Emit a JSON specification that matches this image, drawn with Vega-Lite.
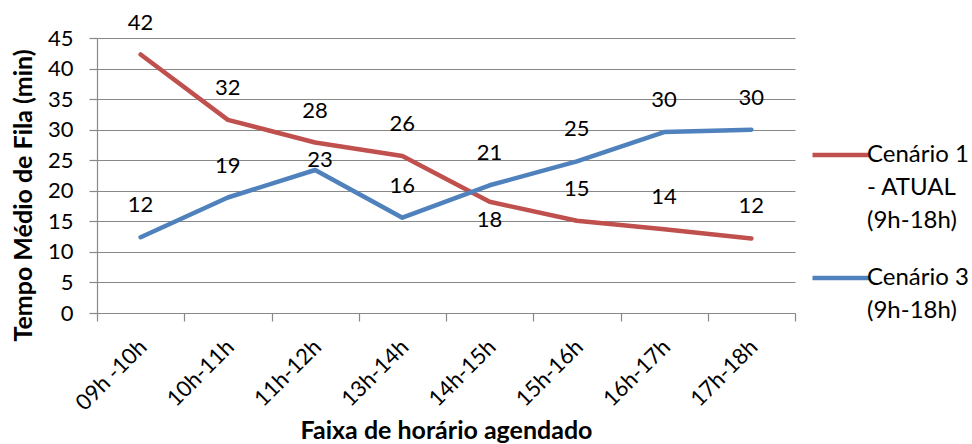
{
  "$schema": "https://vega.github.io/schema/vega-lite/v6.json",
  "width": 698,
  "height": 275,
  "autosize": {"type": "none"},
  "padding": {"left": 97, "top": 38, "right": 177, "bottom": 131},
  "background": "white",
  "config": {
    "font": "Lato",
    "view": {"stroke": null},
    "style": {"guide-label": {"lineHeight": 33}},
    "axis": {
      "labelColor": "black",
      "titleColor": "black",
      "labelFontSize": 22,
      "titleFontSize": 25,
      "titleFontWeight": "bold",
      "domainColor": "#888888",
      "tickColor": "#888888",
      "gridColor": "#888888",
      "domainWidth": 1.2,
      "tickWidth": 1.2,
      "gridWidth": 1.2
    }
  },
  "data": {
    "values": [
      {"faixa": "09h -10h", "serie": "Cenário 1 - ATUAL (9h-18h)", "valor": 42.3},
      {"faixa": "10h-11h", "serie": "Cenário 1 - ATUAL (9h-18h)", "valor": 31.6},
      {"faixa": "11h-12h", "serie": "Cenário 1 - ATUAL (9h-18h)", "valor": 27.9},
      {"faixa": "13h-14h", "serie": "Cenário 1 - ATUAL (9h-18h)", "valor": 25.7},
      {"faixa": "14h-15h", "serie": "Cenário 1 - ATUAL (9h-18h)", "valor": 18.2},
      {"faixa": "15h-16h", "serie": "Cenário 1 - ATUAL (9h-18h)", "valor": 15.1},
      {"faixa": "16h-17h", "serie": "Cenário 1 - ATUAL (9h-18h)", "valor": 13.7},
      {"faixa": "17h-18h", "serie": "Cenário 1 - ATUAL (9h-18h)", "valor": 12.2},
      {"faixa": "09h -10h", "serie": "Cenário 3 (9h-18h)", "valor": 12.4},
      {"faixa": "10h-11h", "serie": "Cenário 3 (9h-18h)", "valor": 18.9},
      {"faixa": "11h-12h", "serie": "Cenário 3 (9h-18h)", "valor": 23.4},
      {"faixa": "13h-14h", "serie": "Cenário 3 (9h-18h)", "valor": 15.6},
      {"faixa": "14h-15h", "serie": "Cenário 3 (9h-18h)", "valor": 20.9},
      {"faixa": "15h-16h", "serie": "Cenário 3 (9h-18h)", "valor": 24.8},
      {"faixa": "16h-17h", "serie": "Cenário 3 (9h-18h)", "valor": 29.6},
      {"faixa": "17h-18h", "serie": "Cenário 3 (9h-18h)", "valor": 30.0}
    ]
  },
  "encoding": {
    "x": {
      "field": "faixa",
      "type": "nominal",
      "sort": null,
      "bandPosition": 0.5,
      "scale": {"type": "band", "paddingInner": 0, "paddingOuter": 0},
      "axis": {
        "title": "Faixa de horário agendado",
        "labelAngle": -45,
        "labelAlign": "right",
        "labelBaseline": "middle",
        "tickBand": "extent",
        "grid": false,
        "tickSize": 8,
        "labelPadding": 22,
        "labelOffset": 2,
        "titlePadding": 5
      }
    },
    "y": {
      "field": "valor",
      "type": "quantitative",
      "scale": {"domain": [0, 45], "nice": false},
      "axis": {
        "values": [0, 5, 10, 15, 20, 25, 30, 35, 40, 45],
        "title": "Tempo Médio de Fila (min)",
        "grid": true,
        "tickSize": 8,
        "labelPadding": 16,
        "titlePadding": 11,
        "titleY": 157
      }
    },
    "color": {
      "field": "serie",
      "type": "nominal",
      "scale": {
        "domain": ["Cenário 1 - ATUAL (9h-18h)", "Cenário 3 (9h-18h)"],
        "range": ["#C0504D", "#4F81BD"]
      },
      "legend": {
        "title": null,
        "orient": "none",
        "legendX": 713,
        "legendY": 86,
        "padding": 0,
        "symbolType": "stroke",
        "symbolSize": 3249,
        "symbolStrokeWidth": 4.5,
        "labelFontSize": 24,
        "labelColor": "black",
        "labelOffset": -5,
        "labelLimit": 300,
        "rowPadding": 14,
        "labelExpr": "datum.label == 'Cenário 1 - ATUAL (9h-18h)' ? ['Cenário 1', '- ATUAL', '(9h-18h)'] : ['Cenário 3', '(9h-18h)']"
      }
    }
  },
  "layer": [
    {
      "mark": {"type": "line", "strokeWidth": 4.5, "strokeCap": "round", "strokeJoin": "round"}
    },
    {
      "transform": [
        {"filter": "!((datum.serie == 'Cenário 3 (9h-18h)' && datum.faixa == '11h-12h') || (datum.serie == 'Cenário 1 - ATUAL (9h-18h)' && datum.faixa == '14h-15h'))"}
      ],
      "mark": {"type": "text", "dy": -32, "fontSize": 22, "baseline": "middle"},
      "encoding": {
        "text": {"field": "valor", "type": "quantitative", "format": ".0f"},
        "color": {"value": "black"}
      }
    },
    {
      "transform": [
        {"filter": "datum.serie == 'Cenário 3 (9h-18h)' && datum.faixa == '11h-12h'"}
      ],
      "mark": {"type": "text", "dy": -10, "dx": 5, "fontSize": 22, "baseline": "middle"},
      "encoding": {
        "text": {"field": "valor", "type": "quantitative", "format": ".0f"},
        "color": {"value": "black"}
      }
    },
    {
      "transform": [
        {"filter": "datum.serie == 'Cenário 1 - ATUAL (9h-18h)' && datum.faixa == '14h-15h'"}
      ],
      "mark": {"type": "text", "dy": 18, "fontSize": 22, "baseline": "middle"},
      "encoding": {
        "text": {"field": "valor", "type": "quantitative", "format": ".0f"},
        "color": {"value": "black"}
      }
    }
  ]
}
